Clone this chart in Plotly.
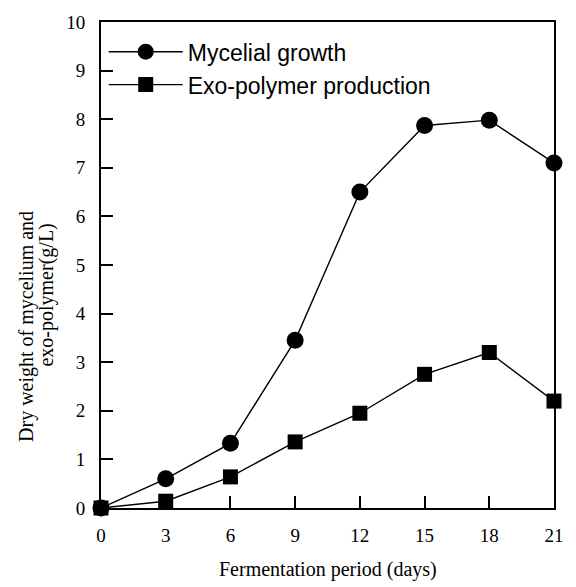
import plotly.graph_objects as go

days = [0, 3, 6, 9, 12, 15, 18, 21]
mycelial = [0, 0.6, 1.33, 3.45, 6.5, 7.87, 7.98, 7.1]
exopolymer = [0, 0.14, 0.64, 1.36, 1.95, 2.75, 3.2, 2.2]
x_ticks = [0, 3, 6, 9, 12, 15, 18, 21]
y_ticks = list(range(0, 11))
x_title = "Fermentation period (days)"
y_title_1 = "Dry weight of mycelium and"
y_title_2 = "exo-polymer(g/L)"

fig = go.Figure()
fig.add_trace(go.Scatter(x=days, y=mycelial, mode="lines+markers", name="Mycelial growth",
                         line=dict(color="black", width=1.4),
                         marker=dict(symbol="circle", size=17, color="black"), cliponaxis=False))
fig.add_trace(go.Scatter(x=days, y=exopolymer, mode="lines+markers", name="Exo-polymer production",
                         line=dict(color="black", width=1.4),
                         marker=dict(symbol="square", size=15, color="black"), cliponaxis=False))

serif = "Liberation Serif, Times New Roman, serif"
fig.update_layout(
    width=576, height=587, autosize=False,
    margin=dict(l=101, r=15, t=20, b=79),
    paper_bgcolor="white", plot_bgcolor="white",
    showlegend=True,
    legend=dict(x=0.006, y=0.983, xanchor="left", yanchor="top", bgcolor="rgba(0,0,0,0)",
                font=dict(family="Liberation Sans, Arial, sans-serif", size=23, color="black"),
                itemwidth=74, tracegroupgap=0),
    font=dict(family=serif, color="black"),
)
fig.update_xaxes(range=[0, 21], tickvals=x_ticks, ticktext=[str(v) for v in x_ticks],
                 ticks="inside", ticklen=12, tickwidth=1.5, tickcolor="black",
                 showline=True, linecolor="black", linewidth=2, mirror=True,
                 showgrid=False, zeroline=False,
                 tickfont=dict(family=serif, size=19), ticklabelstandoff=9)
fig.update_yaxes(range=[0, 10], tickvals=y_ticks, ticktext=[str(v) for v in y_ticks],
                 ticks="inside", ticklen=12, tickwidth=1.5, tickcolor="black",
                 showline=True, linecolor="black", linewidth=2, mirror=True,
                 showgrid=False, zeroline=False,
                 tickfont=dict(family=serif, size=19), ticklabelstandoff=10)

fig.add_annotation(text=x_title, xref="paper", yref="paper", x=0.5, y=-0.127,
                   xanchor="center", yanchor="middle", showarrow=False,
                   font=dict(family=serif, size=20, color="black"))
fig.add_annotation(text=y_title_1, xref="paper", yref="paper", x=-0.165, y=0.373,
                   xanchor="center", yanchor="middle", textangle=-90, showarrow=False,
                   font=dict(family=serif, size=20, color="black"))
fig.add_annotation(text=y_title_2, xref="paper", yref="paper", x=-0.12, y=0.4385,
                   xanchor="center", yanchor="middle", textangle=-90, showarrow=False,
                   font=dict(family=serif, size=20, color="black"))

fig.write_html("out.html", config={"displayModeBar": False, "responsive": False},
               post_script="document.documentElement.style.overflow='hidden';"
                           "document.body.style.overflow='hidden';"
                           "document.body.style.margin='0';document.body.style.padding='0';")
